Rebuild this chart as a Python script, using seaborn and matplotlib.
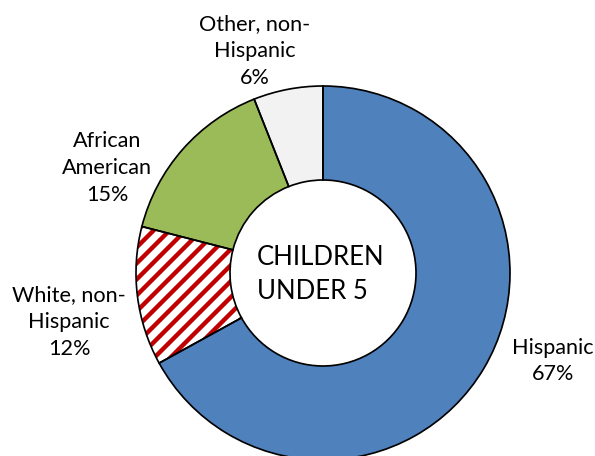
import matplotlib
matplotlib.use("Agg")
import matplotlib.pyplot as plt
import seaborn as sns

# Race / ethnicity of children under 5
categories = ["Hispanic", "White, non-\nHispanic", "African\nAmerican", "Other, non-\nHispanic"]
shares = [67, 12, 15, 6]
colors = ["#4F81BD", "#FFFFFF", "#9BBB59", "#F2F2F2"]
center_title = "CHILDREN\nUNDER 5"

sns.set_theme(style="white")
plt.rcParams["font.family"] = ["Lato", "DejaVu Sans"]
plt.rcParams["hatch.linewidth"] = 2.2

DPI = 144
W, H = 595, 456
fig = plt.figure(figsize=(W / DPI, H / DPI), dpi=DPI)
ax = fig.add_axes([0, 0, 1, 1])

# axes in pixel units (y up)
cx, cy = 323, H - 273
R_out, ring = 187, 94

palette = sns.color_palette(colors)
wedges, _ = ax.pie(
    shares, colors=palette, startangle=90, counterclock=False,
    center=(cx, cy), radius=R_out,
    wedgeprops=dict(width=ring, linewidth=0, edgecolor="none"),
)
# striped fill for the White, non-Hispanic slice
wedges[1].set_facecolor("white")
wedges[1].set_edgecolor("#C00000")
wedges[1].set_hatch("///")
wedges[1].set_linewidth(0)

# black outlines on every slice
ax.pie(
    shares, colors=["none"] * len(shares), startangle=90, counterclock=False,
    center=(cx, cy), radius=R_out,
    wedgeprops=dict(width=ring, linewidth=0.85, edgecolor="black", facecolor="none"),
)

ax.set_xlim(0, W)
ax.set_ylim(0, H)
ax.set_aspect("equal")
ax.axis("off")

# label anchors (pixel coordinates, y up)
label_pos = {
    "Hispanic": (553, H - 361),
    "White, non-\nHispanic": (69, H - 322),
    "African\nAmerican": (107, H - 168),
    "Other, non-\nHispanic": (255, H - 51),
}
label_size = 10.8
for cat, val in zip(categories, shares):
    x, y = label_pos[cat]
    ax.text(x, y, f"{cat}\n{val}%", ha="center", va="center",
            fontsize=label_size, color="black", linespacing=1.42)

ax.text(321, H - 274.5, center_title, ha="center", va="center",
        multialignment="left", fontsize=12.9, color="black", linespacing=1.42)

fig.savefig("out.png", dpi=DPI)
